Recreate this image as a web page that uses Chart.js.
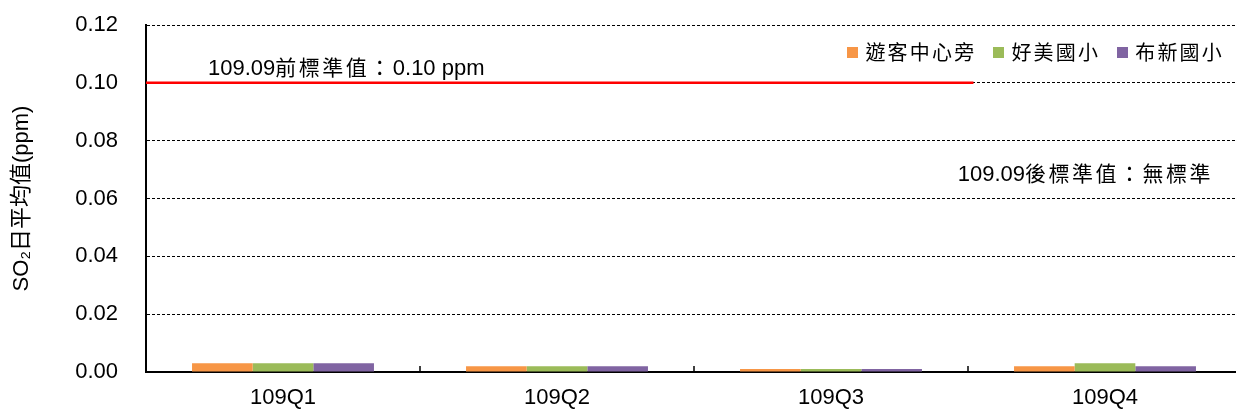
<!DOCTYPE html>
<html>
<head>
<meta charset="utf-8">
<title>SO2 日平均值</title>
<script src="https://cdn.jsdelivr.net/npm/chart.js@4.4.0/dist/chart.umd.min.js"></script>
<style>
  html, body { margin: 0; padding: 0; background: #fff; overflow: hidden; width: 1236px; height: 412px; }
  .chart-container { position: relative; width: 1242px; height: 412px; }
  #legend {
    position: absolute; top: 40px; right: 12px;
    display: flex; align-items: center; gap: 17px;
    font-family: 'Noto Sans CJK TC', sans-serif; font-size: 20px; line-height: 24px;
    letter-spacing: 2.2px; color: #000;
  }
  #legend .item { display: flex; align-items: center; }
  #legend .box { width: 11px; height: 11px; margin-right: 7px; }
</style>
</head>
<body>
<div class="chart-container">
  <canvas id="so2Chart"></canvas>
</div>
<div id="legend"></div>
<script>
  const categories = ['109Q1', '109Q2', '109Q3', '109Q4'];
  const seriesNames = ['遊客中心旁', '好美國小', '布新國小'];
  const visitorCenter = [0.003, 0.002, 0.001, 0.002];
  const haomeiSchool = [0.003, 0.002, 0.001, 0.003];
  const buxinSchool = [0.003, 0.002, 0.001, 0.002];
  const seriesColors = ['#F79646', '#9BBB59', '#8064A2'];
  const yTicks = [0, 0.02, 0.04, 0.06, 0.08, 0.10, 0.12];

  // standard line: 0.10 ppm until 109.09 (index position on the category axis)
  const standardValue = 0.10;
  const standardStart = -0.5;
  const standardEnd = 2.52;
  const standardLabel = '109.09前標準值：0.10 ppm';
  const afterLabel = '109.09後標準值：無標準';

  const latinFont = "'Liberation Sans', Arial, sans-serif";
  const mixedFont = "'Liberation Sans', Arial, 'Noto Sans CJK TC', sans-serif";

  // draw text with latin runs in Arial-like font, CJK runs spaced out a bit
  function drawMixed(ctx, text, x, y, align) {
    const runs = text.match(/[\x00-\x7F]+|[^\x00-\x7F]+/g) || [];
    const setFont = cjk => {
      ctx.font = cjk ? "21px 'Noto Sans CJK TC', sans-serif" : '22px ' + latinFont;
      ctx.letterSpacing = cjk ? '2.5px' : '0px';
    };
    const parts = runs.map(r => {
      const cjk = /[^\x00-\x7F]/.test(r);
      setFont(cjk);
      return { text: r, cjk, w: ctx.measureText(r).width };
    });
    const total = parts.reduce((s, p) => s + p.w, 0);
    let cx = align === 'right' ? x - total : x;
    ctx.textAlign = 'left';
    ctx.textBaseline = 'alphabetic';
    ctx.fillStyle = '#000';
    parts.forEach(p => {
      setFont(p.cjk);
      ctx.fillText(p.text, cx, y);
      cx += p.w;
    });
    ctx.letterSpacing = '0px';
  }

  const notesPlugin = {
    id: 'notes',
    afterDatasetsDraw(chart) {
      const { ctx, chartArea, scales } = chart;
      const x = scales.x, y = scales.y;
      ctx.save();
      // small inward ticks between the quarters
      ctx.strokeStyle = '#000';
      ctx.lineWidth = 1.5;
      const half = (x.getPixelForValue(1) - x.getPixelForValue(0)) / 2;
      categories.forEach((c, i) => {
        const bx = x.getPixelForValue(i) + half;
        ctx.beginPath();
        ctx.moveTo(bx, chartArea.bottom);
        ctx.lineTo(bx, chartArea.bottom - 6);
        ctx.stroke();
      });
      drawMixed(ctx, standardLabel, chartArea.left + 62, y.getPixelForValue(standardValue) - 8, 'left');
      drawMixed(ctx, afterLabel, chartArea.right - 29, y.getPixelForValue(0.066), 'right');
      ctx.restore();
    }
  };

  const htmlLegendPlugin = {
    id: 'htmlLegend',
    afterUpdate(chart) {
      const el = document.getElementById('legend');
      el.innerHTML = '';
      chart.data.datasets.forEach(ds => {
        if (ds.type === 'line') return;
        const item = document.createElement('div');
        item.className = 'item';
        const box = document.createElement('span');
        box.className = 'box';
        box.style.background = ds.backgroundColor;
        const label = document.createElement('span');
        label.textContent = ds.label;
        item.appendChild(box);
        item.appendChild(label);
        el.appendChild(item);
      });
    }
  };

  const seriesData = [visitorCenter, haomeiSchool, buxinSchool];
  const barSets = seriesNames.map((name, i) => ({
    type: 'bar',
    label: name,
    data: seriesData[i],
    backgroundColor: seriesColors[i],
    borderWidth: 0,
    order: 2
  }));

  new Chart(document.getElementById('so2Chart'), {
    type: 'bar',
    data: {
      labels: categories,
      datasets: [
        ...barSets,
        {
          type: 'line',
          label: 'standard',
          parsing: false, // x given as category index positions
          data: [{ x: standardStart, y: standardValue }, { x: standardEnd, y: standardValue }],
          borderColor: '#FF0000',
          borderWidth: 2.5,
          pointRadius: 0,
          order: 0
        }
      ]
    },
    options: {
      responsive: true,
      maintainAspectRatio: false,
      animation: false,
      layout: { padding: { top: 25, right: 0, bottom: 0, left: 0 } },
      datasets: { bar: { categoryPercentage: 0.664, barPercentage: 1.0 } },
      plugins: {
        legend: { display: false },
        tooltip: { enabled: false }
      },
      scales: {
        x: {
          grid: { display: false },
          border: { display: true, color: '#000', width: 2 },
          ticks: { color: '#000', font: { family: latinFont, size: 22 }, padding: 5, maxRotation: 0 },
          afterFit(s) { s.height = 40; }
        },
        y: {
          min: yTicks[0],
          max: yTicks[yTicks.length - 1],
          afterBuildTicks(s) { s.ticks = yTicks.map(v => ({ value: v })); },
          grid: { color: '#000', lineWidth: 1, drawTicks: true, tickLength: 28, tickColor: 'rgba(0,0,0,0)' },
          border: { color: '#000', width: 2, dash: [3, 2] },
          ticks: {
            color: '#000',
            font: { family: latinFont, size: 22 },
            padding: 0,
            callback: v => Number(v).toFixed(2)
          },
          title: {
            display: true,
            text: 'SO₂日平均值(ppm)',
            color: '#000',
            font: { family: mixedFont, size: 22 },
            padding: { top: 9, bottom: 0 }
          },
          afterFit(s) { s.width = 146; }
        }
      }
    },
    plugins: [notesPlugin, htmlLegendPlugin]
  });
</script>
</body>
</html>
